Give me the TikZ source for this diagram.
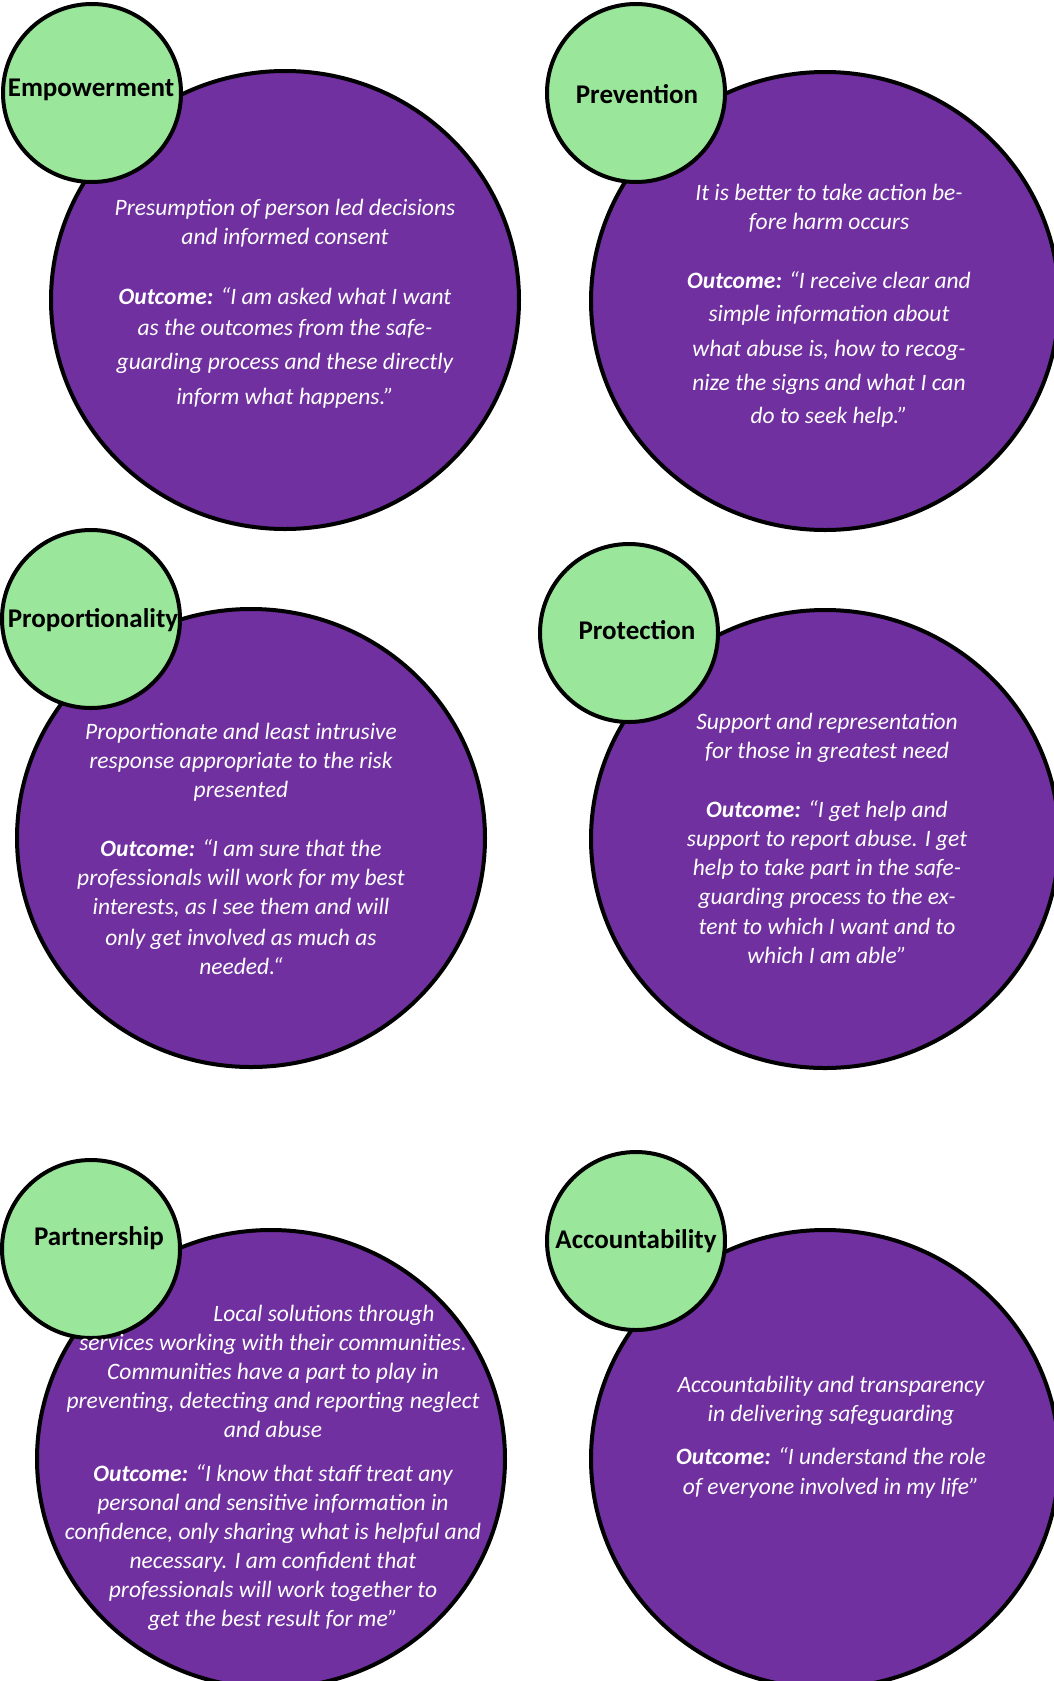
\documentclass[tikz,border=0pt]{standalone}
\usepackage{fontspec}
\setmainfont{Carlito}
\usepackage{tikz}
\usetikzlibrary{shapes.geometric}
\definecolor{discpurple}{HTML}{7030A0}
\definecolor{tagGreen}{HTML}{9AE69A}

\begin{document}
\begin{tikzpicture}[
    x=1pt, y=-1pt,
    bubble/.style={ellipse, draw, line width=4pt, fill=discpurple,
                   minimum width=468pt, minimum height=458pt, inner sep=0pt},
    tag/.style={circle, draw, line width=4pt, fill=tagGreen,
                minimum size=178pt, inner sep=0pt},
    tagtext/.style={font=\fontsize{27}{30}\selectfont\bfseries},
    body/.style={text=white, align=center, font=\fontsize{23.5}{29}\selectfont\itshape}
  ]
  \useasboundingbox (0,0) rectangle (1054,1681);

  % purple discs
  \node[bubble] (empB) at (285,300) {};
  \node[bubble] (prevB) at (825,301) {};
  \node[bubble] (propB) at (251,838) {};
  \node[bubble] (protB) at (825,839) {};
  \node[bubble] (partB) at (271,1459) {};
  \node[bubble] (accB) at (825,1459) {};

  % green tags
  \node[tag] (empT) at (92,93) {};
  \node[tag] (prevT) at (636,93) {};
  \node[tag] (propT) at (91,619) {};
  \node[tag] (protT) at (629,633) {};
  \node[tag] (partT) at (91,1249) {};
  \node[tag] (accT) at (636,1241) {};

  \node[tagtext] (empL) at (91,90) {Empowerment};
  \node[tagtext] (prevL) at (637,94) {Prevention};
  \node[tagtext] (propL) at (93,620) {Proportionality};
  \node[tagtext] (protL) at (637,630) {Protection};
  \node[tagtext] (partL) at (99,1238) {Partnership};
  \node[tagtext] (accL) at (636,1241) {Accountability};

  % texts
  \node[body] (empX) at (285,303.5) {Presumption of person led decisions\\
    and informed consent\\[31pt]
    \textbf{Outcome:} “I am asked what I want\\[2pt]
    as the outcomes from the safe-\\[5pt]
    guarding process and these directly\\[6pt]
    inform what happens.”};
  \node[body] (prevX) at (829,305.5) {It is better to take action be-\\
    fore harm occurs\\[30pt]
    \textbf{Outcome:} “I receive clear and\\[4pt]
    simple information about\\[6pt]
    what abuse is, how to recog-\\[5pt]
    nize the signs and what I can\\[4pt]
    do to seek help.”};
  \node[body] (propX) at (241,849) {Proportionate and least intrusive\\
    response appropriate to the risk\\
    presented\\[30pt]
    \textbf{Outcome:} “I am sure that the\\
    professionals will work for my best\\
    interests, as I see them and will\\[2pt]
    only get involved as much as\\
    needed.“};
  \node[body] (protX) at (827,838.5) {Support and representation\\
    for those in greatest need\\[29.5pt]
    \textbf{Outcome:} “I get help and\\
    support to report abuse. I get\\
    help to take part in the safe-\\
    guarding process to the ex-\\[1pt]
    tent to which I want and to\\
    which I am able”};
  \node[body] (partX) at (273,1468) {\hspace*{102pt}Local solutions through\\
    services working with their communities.\\
    Communities have a part to play in\\
    preventing, detecting and reporting neglect\\
    and abuse\\[15pt]
    \textbf{Outcome:} “I know that staff treat any\\
    personal and sensitive information in\\
    confidence, only sharing what is helpful and\\
    necessary. I am confident that\\
    professionals will work together to\\
    get the best result for me”};
  \node[body] (accX) at (831,1437) {Accountability and transparency\\
    in delivering safeguarding\\[14pt]
    \textbf{Outcome:} “I understand the role\\[1pt]
    of everyone involved in my life”};
\end{tikzpicture}
\end{document}
